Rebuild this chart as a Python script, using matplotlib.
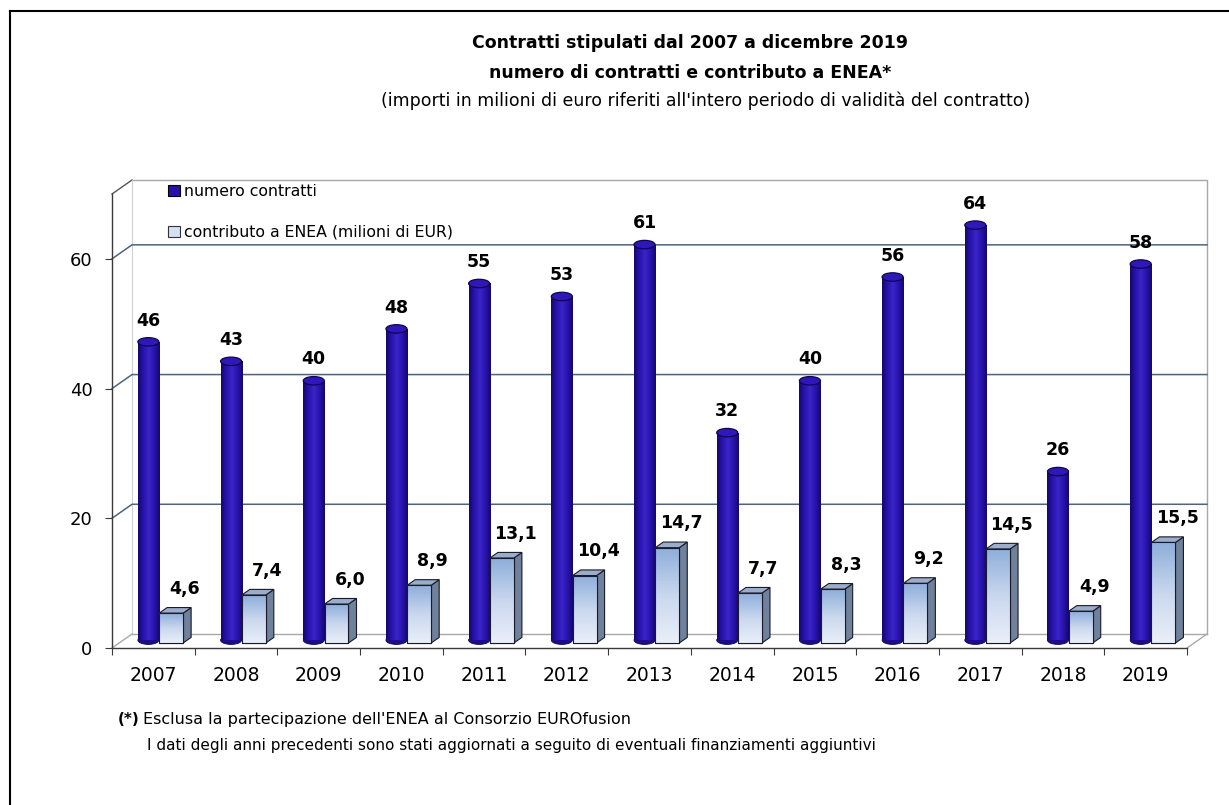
#!/usr/bin/env python3
"""Contratti ENEA 2007-2019: cilindri (n. contratti) + box (contributo)"""

import numpy as np
import matplotlib
matplotlib.use('Agg')
import matplotlib.pyplot as plt
from matplotlib.patches import Rectangle, Ellipse, Polygon
from matplotlib.colors import LinearSegmentedColormap
from matplotlib.lines import Line2D

# --- dati ---
anni = ['2007', '2008', '2009', '2010', '2011', '2012', '2013',
        '2014', '2015', '2016', '2017', '2018', '2019']
contratti = [46, 43, 40, 48, 55, 53, 61, 32, 40, 56, 64, 26, 58]
contributo = [4.6, 7.4, 6.0, 8.9, 13.1, 10.4, 14.7, 7.7, 8.3, 9.2, 14.5, 4.9, 15.5]
yticks = [0, 20, 40, 60]

plt.rcParams['font.family'] = ['DejaVu Sans']

W, H = 1229, 805
fig = plt.figure(figsize=(W / 100, H / 100), dpi=100)
fig.patch.set_facecolor('white')

# cornice (solo bordo sinistro e superiore)
fig.add_artist(Line2D([10 / W, 10 / W], [0, 1 - 11 / H], color='black', lw=1.5))
fig.add_artist(Line2D([10 / W, 1], [1 - 11 / H, 1 - 11 / H], color='black', lw=1.5))

ax = fig.add_axes([112 / W, 157 / H, 1075 / W, 454 / H])
ax.set_xlim(-0.5, len(anni) - 0.5)
ax.set_ylim(0, 70)
ax.set_autoscale_on(False)
ax.set_facecolor('none')

# profondita' finta 3D (in unita' dati)
DX, DY = 0.242, 2.16
n = len(anni)
xl, xr = -0.5, n - 0.5
grid_c = '#4d6380'
wall_c = '#a8a8a8'

# pareti
ax.plot([xl + DX, xr + DX, xr + DX], [70 + DY, 70 + DY, DY], color=wall_c, lw=1, clip_on=False, zorder=1)
ax.plot([xl, xl + DX], [70, 70 + DY], color='#555555', lw=1, clip_on=False, zorder=1)
ax.plot([xl + DX, xl + DX], [DY, 70 + DY], color='#d0d0d0', lw=0.8, clip_on=False, zorder=1)
ax.plot([xl + DX, xr + DX], [DY, DY], color=wall_c, lw=1, clip_on=False, zorder=1)
ax.plot([xl, xl + DX], [0, DY], color=wall_c, lw=1, clip_on=False, zorder=1)
ax.plot([xr, xr + DX], [0, DY], color=wall_c, lw=1, clip_on=False, zorder=1)
for v in yticks[1:]:
    ax.plot([xl, xl + DX, xr + DX], [v, v + DY, v + DY], color=grid_c, lw=1.1, clip_on=False, zorder=1)

cyl_cmap = LinearSegmentedColormap.from_list('cyl', ['#14076e', '#2814ae', '#3a24c8', '#2814ae', '#14076e'])
box_cmap = LinearSegmentedColormap.from_list('box', ['#e9eff9', '#c9d7ee', '#8eaedb'])
grad_h = np.linspace(0, 1, 64).reshape(1, -1)
grad_v = np.linspace(0, 1, 64).reshape(-1, 1)

wc = 0.254          # larghezza cilindro
eh = 1.3            # altezza ellisse
fc = 0.557          # profondita' centro
base_c = fc * DY
f0 = 0.357          # fronte box
bd = 0.4            # spessore box
y0b = f0 * DY
ddx, ddy = bd * DX, bd * DY

for i in range(n):
    # cilindro
    v = contratti[i]
    xc = i - 0.06
    top = base_c + v
    z = 3 + i * 0.1
    ax.add_patch(Ellipse((xc, base_c), wc, eh, facecolor='#1c0c88', edgecolor='#100650', lw=0.6, zorder=z))
    body = Rectangle((xc - wc / 2, base_c), wc, v, facecolor='#2612a8', edgecolor='none', zorder=z)
    ax.add_patch(body)
    im = ax.imshow(grad_h, cmap=cyl_cmap, extent=(xc - wc / 2, xc + wc / 2, base_c, top),
                   aspect='auto', zorder=z + 0.01, interpolation='bicubic')
    im.set_clip_path(body)
    ax.add_patch(Ellipse((xc, top), wc, eh, facecolor='#3018b8', edgecolor='#0e0550', lw=0.9, zorder=z + 0.02))
    ax.text(xc, top + 1.9, str(v), ha='center', va='bottom', fontsize=12.5, fontweight='bold', zorder=10)

    # box
    b = contributo[i]
    x0, x1 = i + 0.07, i + 0.36
    y1 = y0b + b
    zb = z + 0.05
    ax.add_patch(Polygon([(x1, y0b), (x1 + ddx, y0b + ddy), (x1 + ddx, y1 + ddy), (x1, y1)],
                         closed=True, facecolor='#6f819b', edgecolor='#1a1a2a', lw=0.8, zorder=zb))
    ax.add_patch(Polygon([(x0, y1), (x1, y1), (x1 + ddx, y1 + ddy), (x0 + ddx, y1 + ddy)],
                         closed=True, facecolor='#9aaecb', edgecolor='#1a1a2a', lw=0.8, zorder=zb))
    front = Rectangle((x0, y0b), x1 - x0, b, facecolor='#c9d7ee', edgecolor='#1a1a2a', lw=0.8, zorder=zb + 0.01)
    ax.add_patch(front)
    imb = ax.imshow(grad_v, cmap=box_cmap, extent=(x0, x1, y0b, y1), origin='lower',
                    aspect='auto', zorder=zb + 0.02, interpolation='bicubic')
    imb.set_clip_path(front)
    ax.add_patch(Rectangle((x0, y0b), x1 - x0, b, facecolor='none', edgecolor='#1a1a2a', lw=0.8, zorder=zb + 0.03))
    ax.text(i + 0.38, y1 + ddy + 1.5, f"{b:.1f}".replace('.', ','), ha='center', va='bottom',
            fontsize=12.5, fontweight='bold', zorder=10)

ax.set_xlim(xl, xr)
ax.set_ylim(0, 70)

# assi
for s in ['top', 'right']:
    ax.spines[s].set_visible(False)
for s in ['left', 'bottom']:
    ax.spines[s].set_color('#3a3a3a')
    ax.spines[s].set_linewidth(1)
ax.set_xticks(np.arange(n + 1) - 0.5)
ax.set_xticklabels([])
ax.set_xticks(np.arange(n), minor=True)
ax.set_xticklabels(anni, minor=True, fontsize=13.5)
ax.tick_params(axis='x', which='major', length=5, color='#3a3a3a')
ax.tick_params(axis='x', which='minor', length=0, pad=13)
ax.set_yticks(yticks)
ax.set_yticklabels([str(t) for t in yticks], fontsize=13)
ax.tick_params(axis='y', length=5, color='#3a3a3a', pad=9)

# legenda
handles = [Rectangle((0, 0), 1, 1, facecolor='#2612a8', edgecolor='black', lw=0.8),
           Rectangle((0, 0), 1, 1, facecolor='#d5e0f2', edgecolor='#333333', lw=0.8)]
fig.legend(handles, ['numero contratti', 'contributo a ENEA (milioni di EUR)'],
           loc='upper left', bbox_to_anchor=(168 / W, 1 - 184 / H), frameon=False,
           fontsize=11.3, handlelength=0.75, handleheight=0.75, handletextpad=0.3,
           labelspacing=1.65, borderpad=0, borderaxespad=0)

# titoli
fig.text(690 / W, 1 - 43 / H, 'Contratti stipulati dal 2007 a dicembre 2019',
         ha='center', va='center', fontsize=12.5, fontweight='bold')
fig.text(690 / W, 1 - 73 / H, 'numero di contratti e contributo a ENEA*',
         ha='center', va='center', fontsize=12.5, fontweight='bold')
fig.text(706 / W, 1 - 101 / H,
         "(importi in milioni di euro riferiti all'intero periodo di validità del contratto)",
         ha='center', va='center', fontsize=12.5)

# note
fig.text(118 / W, 1 - 719 / H, '(*)', ha='left', va='center', fontsize=11, fontweight='bold')
fig.text(143 / W, 1 - 719 / H, "Esclusa la partecipazione dell'ENEA al Consorzio EUROfusion",
         ha='left', va='center', fontsize=11.5)
fig.text(147 / W, 1 - 745 / H,
         'I dati degli anni precedenti sono stati aggiornati a seguito di eventuali finanziamenti aggiuntivi',
         ha='left', va='center', fontsize=11)

fig.savefig('out.png', dpi=100)
